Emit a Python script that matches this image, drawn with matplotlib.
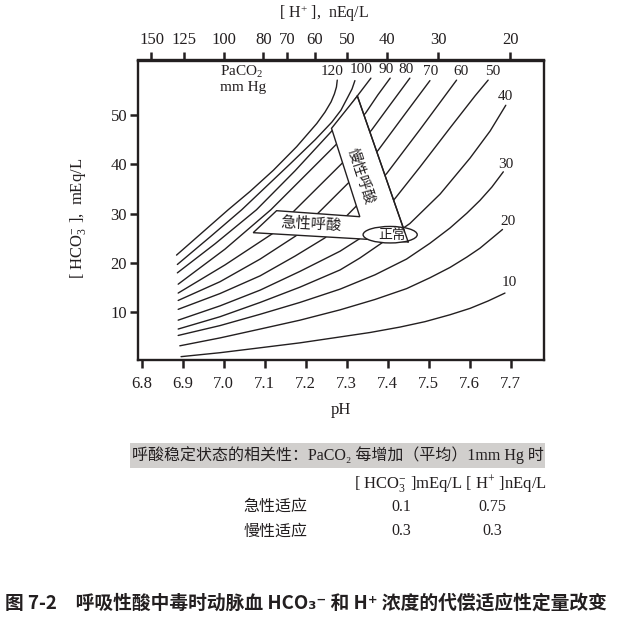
import numpy as np
import matplotlib
matplotlib.use('Agg')
import matplotlib.pyplot as plt
from matplotlib.patches import Polygon, Ellipse, Rectangle
from matplotlib.ticker import NullLocator

SERIF = ['Liberation Serif', 'Noto Sans CJK SC', 'DejaVu Serif']
CJK = ['Noto Sans CJK SC', 'DejaVu Sans']
plt.rcParams['font.family'] = SERIF
plt.rcParams['mathtext.fontset'] = 'custom'
plt.rcParams['mathtext.rm'] = 'Liberation Serif'
plt.rcParams['mathtext.it'] = 'Liberation Serif:italic'
plt.rcParams['mathtext.bf'] = 'Liberation Serif:bold'

INK = '#231f20'

# PaCO2 isopleths (mm Hg), points as (pH, HCO3- mEq/L)
paco2 = [120, 110, 100, 90, 80, 70, 60, 50, 40, 30, 20, 10]
curve_labels = ['120', '', '100', '90', '80', '70', '60', '50', '40', '30', '20', '10']

ph_120 = [6.885, 7.011, 7.064, 7.121, 7.178, 7.227, 7.247, 7.262, 7.270, 7.275, 7.277]
hco3_120 = [21.6, 30.8, 34.5, 38.8, 43.6, 48.3, 50.6, 52.7, 54.3, 55.7, 57.1]
ph_110 = [6.887, 6.967, 7.044, 7.162, 7.223, 7.264, 7.286, 7.303, 7.313, 7.320]
hco3_110 = [19.7, 25.3, 30.8, 40.1, 45.0, 48.6, 51.0, 53.7, 55.3, 57.0]
ph_100 = [6.887, 6.979, 7.080, 7.174, 7.265, 7.326, 7.359]
hco3_100 = [18.0, 23.9, 30.8, 38.7, 46.9, 53.9, 57.5]
ph_90 = [6.889, 7.003, 7.115, 7.275, 7.346, 7.376, 7.406]
hco3_90 = [15.7, 22.8, 30.8, 44.1, 50.4, 54.1, 57.5]
ph_80 = [6.889, 7.003, 7.118, 7.171, 7.292, 7.361, 7.406, 7.454]
hco3_80 = [13.9, 19.6, 25.9, 30.5, 40.5, 47.0, 52.1, 57.5]
ph_70 = [6.889, 6.991, 7.089, 7.176, 7.230, 7.306, 7.377, 7.442, 7.503]
hco3_70 = [12.4, 16.2, 20.8, 25.5, 30.1, 36.4, 42.9, 50.2, 57.0]
ph_60 = [6.889, 6.991, 7.089, 7.174, 7.247, 7.324, 7.398, 7.479, 7.568]
hco3_60 = [10.6, 13.8, 17.4, 21.4, 25.1, 31.6, 38.2, 47.1, 57.1]
ph_50 = [6.889, 6.991, 7.089, 7.186, 7.284, 7.331, 7.418, 7.479, 7.552, 7.613, 7.645]
hco3_50 = [8.4, 11.3, 14.5, 18.3, 22.4, 24.9, 33.1, 39.5, 47.4, 53.9, 57.1]
ph_40 = [6.889, 6.991, 7.089, 7.186, 7.284, 7.332, 7.381, 7.454, 7.528, 7.601, 7.650, 7.688]
hco3_40 = [6.6, 9.1, 12.0, 15.1, 18.6, 21.0, 23.8, 28.0, 34.0, 41.3, 46.8, 52.0]
ph_30 = [6.889, 6.991, 7.089, 7.186, 7.284, 7.369, 7.446, 7.503, 7.552, 7.593, 7.625, 7.654, 7.682]
hco3_30 = [5.3, 7.3, 9.6, 12.0, 14.7, 17.6, 20.8, 24.0, 27.1, 30.1, 32.7, 35.4, 38.5]
ph_20 = [6.893, 6.991, 7.089, 7.186, 7.284, 7.369, 7.446, 7.503, 7.552, 7.593, 7.625, 7.654, 7.680]
hco3_20 = [3.2, 4.8, 6.6, 8.4, 10.5, 12.6, 14.8, 17.0, 19.1, 21.2, 23.0, 25.0, 26.8]
ph_10 = [6.896, 6.991, 7.089, 7.186, 7.284, 7.357, 7.430, 7.491, 7.552, 7.601, 7.645, 7.686]
hco3_10 = [1.0, 1.8, 2.8, 3.8, 5.0, 5.9, 7.0, 8.1, 9.5, 10.8, 12.3, 13.9]

curve_ph = [ph_120, ph_110, ph_100, ph_90, ph_80, ph_70, ph_60, ph_50, ph_40, ph_30, ph_20, ph_10]
curve_hco3 = [hco3_120, hco3_110, hco3_100, hco3_90, hco3_80, hco3_70, hco3_60, hco3_50,
              hco3_40, hco3_30, hco3_20, hco3_10]

ph_ticks = [6.8, 6.9, 7.0, 7.1, 7.2, 7.3, 7.4, 7.5, 7.6, 7.7]
ph_ticklabels = ['6.8', '6.9', '7.0', '7.1', '7.2', '7.3', '7.4', '7.5', '7.6', '7.7']
h_ticks = [150, 125, 100, 80, 70, 60, 50, 40, 30, 20]
hco3_ticks = [10, 20, 30, 40, 50]

# table under the chart
table_rows = ['急性适应', '慢性适应']
hco3_per_mmhg = ['0.1', '0.3']
h_per_mmhg = ['0.75', '0.3']

W, H = 619, 622
fig = plt.figure(figsize=(W / 100, H / 100), dpi=100)


def box(x0, y0, x1, y1):
    return [x0 / W, 1 - y1 / H, (x1 - x0) / W, (y1 - y0) / H]


ax = fig.add_axes(box(137.5, 60.5, 544, 360.3))
ax.set_xlim(6.7898, 7.7812)
ax.set_ylim(0.26, 61.08)

for ph, hc in zip(curve_ph, curve_hco3):
    ax.plot(ph, hc, color=INK, lw=1.0, solid_joinstyle='round', solid_capstyle='round', zorder=2)

# label offsets (points) from the end of each curve
lab_dx = [-4, 0, -6.7, -3, -3, 0.6, 3, 3, 0, 2, 3.8, 3]
lab_dy = [6.5, 0, 6.5, 6.5, 6.5, 6.5, 6.5, 6.5, 6.5, 5.5, 6, 7.8]
for ph, hc, lab, dx, dy in zip(curve_ph, curve_hco3, curve_labels, lab_dx, lab_dy):
    if lab:
        ax.annotate(lab, (ph[-1], hc[-1]), xytext=(dx, dy), textcoords='offset points',
                    ha='center', va='center', fontsize=11, color=INK)

ax.text(6.991, 58.84, 'PaCO$_2$', ha='left', va='center', fontsize=11, color=INK)
ax.text(6.991, 55.6, 'mm Hg', ha='left', va='center', fontsize=11, color=INK)

# acute / chronic bands and the normal ellipse
band = Polygon([(7.072, 26.15), (7.129, 30.61), (7.332, 29.39), (7.263, 47.32),
                (7.326, 53.87), (7.450, 24.26), (7.357, 24.77)],
               closed=True, fc='white', ec=INK, lw=1.0, zorder=3)
ax.add_patch(band)
ax.add_patch(Ellipse((7.406, 25.74), 0.132, 3.35, fc='white', ec=INK, lw=1.0, zorder=4))
ax.plot([7.326, 7.450], [53.87, 24.26], color=INK, lw=1.0, zorder=5)
ax.text(7.334, 37.69, '慢性呼酸', rotation=-72, ha='center', va='center',
        fontsize=10.5, family=CJK, color=INK, zorder=6)
ax.text(7.213, 27.91, '急性呼酸', rotation=-3, ha='center', va='center',
        fontsize=11, family=CJK, color=INK, zorder=6)
ax.text(7.410, 25.68, '正常', ha='center', va='center',
        fontsize=10, family=CJK, color=INK, zorder=6)

ax.set_xticks(ph_ticks)
ax.set_xticklabels(ph_ticklabels)
ax.set_yticks(hco3_ticks)
ax.tick_params(axis='both', direction='out', length=6, width=1.8, colors=INK, labelsize=12)
ax.tick_params(axis='x', pad=5)
ax.tick_params(axis='y', pad=1.5)
for s in ax.spines.values():
    s.set_linewidth(1.7)
    s.set_color(INK)

sec = ax.secondary_xaxis('top', functions=(lambda p: 10 ** (9 - p),
                                           lambda h: 9 - np.log10(np.maximum(h, 1e-9))))
sec.set_xticks(h_ticks)
sec.set_xticklabels([str(v) for v in h_ticks])
sec.xaxis.set_minor_locator(NullLocator())
sec.tick_params(direction='out', length=6, width=1.8, colors=INK, labelsize=12, pad=3)
sec.spines['top'].set_linewidth(1.7)
sec.spines['top'].set_color(INK)

fig.text(324 / W, 1 - 13.5 / H, '[ H$^{+}$ ],  nEq/L', ha='center', va='center',
         fontsize=11.5, color=INK)
fig.text(341 / W, 1 - 410 / H, 'pH', ha='center', va='center', fontsize=12, color=INK)
fig.text(77.5 / W, 1 - 218 / H, '[ HCO$_\\mathrm{3}^{-}$ ],  mEq/L', rotation=90,
         ha='center', va='center', fontsize=12, color=INK)

# table
fig.add_artist(Rectangle((130 / W, 1 - 468.3 / H), 415 / W, 25.6 / H,
                         transform=fig.transFigure, fc='#d1cfcd', ec='none'))
fig.text(132 / W, 1 - 455 / H, '呼酸稳定状态的相关性：PaCO₂ 每增加（平均）1mm Hg 时',
         ha='left', va='center', fontsize=11.5, color=INK, family=SERIF)
fig.text(546.7 / W, 1 - 484 / H, '[ HCO$_\\mathrm{3}^{-}$ ]mEq/L [ H$^{+}$ ]nEq/L',
         ha='right', va='center', fontsize=12, color=INK)
for i, (row, a, b) in enumerate(zip(table_rows, hco3_per_mmhg, h_per_mmhg)):
    y = 1 - (506.7 + 24.3 * i) / H
    fig.text(275 / W, y, row, ha='center', va='center', fontsize=11.5, family=CJK, color=INK)
    fig.text(401 / W, y, a, ha='center', va='center', fontsize=11.5, color=INK)
    fig.text(492 / W, y, b, ha='center', va='center', fontsize=11.5, color=INK)

fig.text(5 / W, 1 - 603 / H, '图 7-2　呼吸性酸中毒时动脉血 HCO₃⁻ 和 H⁺ 浓度的代偿适应性定量改变',
         ha='left', va='center', fontsize=13.5, family=CJK, weight='bold', color=INK)

fig.savefig('out.png', dpi=100)
